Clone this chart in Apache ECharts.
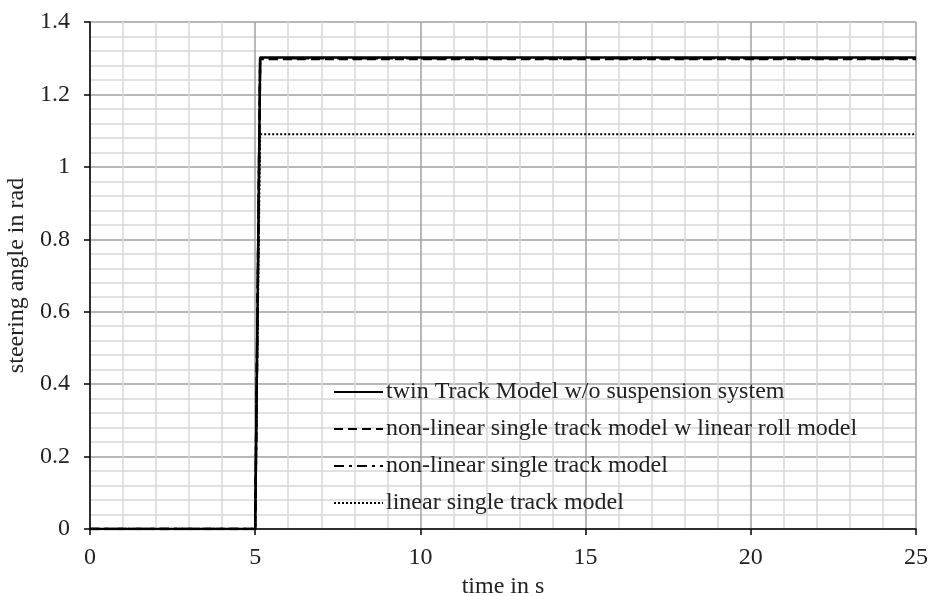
<!DOCTYPE html>
<html>
<head>
<meta charset="utf-8">
<script src="https://cdn.jsdelivr.net/npm/echarts@6/dist/echarts.min.js"></script>
<style>html,body{margin:0;padding:0;background:#fff}#c{width:929px;height:596px}</style>
</head>
<body>
<div id="c"></div>
<script>
const seriesNames = [
  'twin Track Model w/o suspension system',
  'non-linear single track model w linear roll model',
  'non-linear single track model',
  'linear single track model'
];
const timeTwin = [0, 5, 5.15, 25];
const valTwin = [0, 0, 1.302, 1.302];
const timeNlRoll = [0, 5, 5.15, 25];
const valNlRoll = [0, 0, 1.298, 1.298];
const timeNl = [0, 5, 5.15, 25];
const valNl = [0, 0, 1.300, 1.300];
const timeLin = [0, 5, 5.15, 25];
const valLin = [0, 0, 1.09, 1.09];
const xTicks = [0, 5, 10, 15, 20, 25];
const yTicks = [0, 0.2, 0.4, 0.6, 0.8, 1, 1.2, 1.4];

const pairs = (t, v) => t.map((x, i) => [x, v[i]]);
const FONT = '"Liberation Serif", "Times New Roman", serif';
const FS = 24;

const chart = echarts.init(document.getElementById('c'), null, {renderer: 'canvas'});
const mk = (name, data, lineStyle, z) => ({
  name, type: 'line', data, symbol: 'none', showSymbol: false, z,
  lineStyle: Object.assign({color: '#000', width: 2.5}, lineStyle),
  itemStyle: {color: '#000'}, animation: false
});
chart.setOption({
  animation: false,
  textStyle: {fontFamily: FONT, color: '#222'},
  grid: {left: 90, right: 13, top: 22, bottom: 67, containLabel: false, outerBoundsMode: 'none'},
  legend: {
    orient: 'vertical', left: 328, top: 375, itemWidth: 49, itemHeight: 14, itemGap: 13,
    itemStyle: {opacity: 0, color: 'transparent', borderWidth: 0},
    textStyle: {fontFamily: FONT, fontSize: FS, color: '#222', padding: [0, 0, 0, -2]},
    data: seriesNames
  },
  xAxis: {
    type: 'value', min: xTicks[0], max: xTicks[xTicks.length - 1], interval: 5,
    name: 'time in s', nameLocation: 'middle', nameGap: 46,
    nameTextStyle: {fontFamily: FONT, fontSize: FS, color: '#222'},
    axisLine: {show: true, onZero: false, lineStyle: {color: '#000', width: 1.5}},
    axisTick: {show: true, length: 6, lineStyle: {color: '#000', width: 1.5}},
    axisLabel: {fontFamily: FONT, fontSize: FS, color: '#222', margin: 17},
    splitLine: {show: true, lineStyle: {color: '#a0a0a0', width: 1.5}},
    minorTick: {show: false, splitNumber: 5},
    minorSplitLine: {show: true, lineStyle: {color: '#d8d8d8', width: 1.5}}
  },
  yAxis: {
    type: 'value', min: yTicks[0], max: yTicks[yTicks.length - 1], interval: 0.2,
    name: 'steering angle in rad', nameLocation: 'middle', nameGap: 56,
    nameTextStyle: {fontFamily: FONT, fontSize: FS, color: '#222'},
    axisLine: {show: true, lineStyle: {color: '#000', width: 1.5}},
    axisTick: {show: true, length: 6, lineStyle: {color: '#000', width: 1.5}},
    axisLabel: {fontFamily: FONT, fontSize: FS, color: '#222', margin: 20},
    splitLine: {show: true, lineStyle: {color: '#a0a0a0', width: 1.5}},
    minorTick: {show: false, splitNumber: 5},
    minorSplitLine: {show: true, lineStyle: {color: '#d8d8d8', width: 1.5}}
  },
  series: [
    mk(seriesNames[1], pairs(timeNlRoll, valNlRoll), {type: [9, 5]}, 2),
    mk(seriesNames[2], pairs(timeNl, valNl), {type: [10, 5, 3, 5]}, 3),
    mk(seriesNames[3], pairs(timeLin, valLin), {type: [2, 2], width: 2}, 4),
    mk(seriesNames[0], pairs(timeTwin, valTwin), {type: 'solid'}, 5)
  ]
});
</script>
</body>
</html>
